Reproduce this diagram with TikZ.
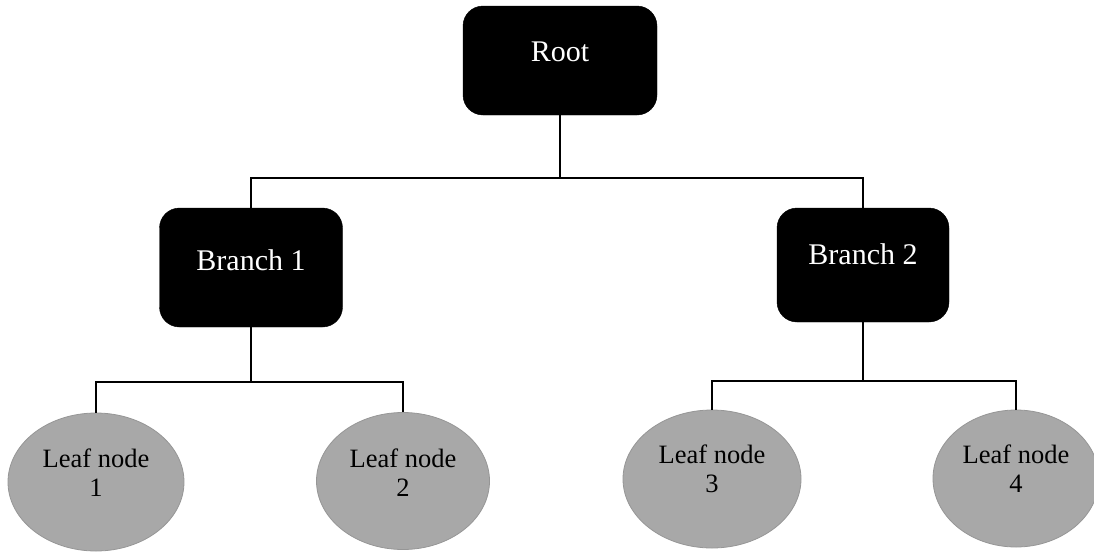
\documentclass[tikz,border=0pt]{standalone}
\usepackage{fontspec}
\setmainfont{Liberation Serif}
\usetikzlibrary{shapes.geometric}
\definecolor{leafgray}{RGB}{168,168,168}
\definecolor{leafedge}{RGB}{150,150,150}
\begin{document}
\begin{tikzpicture}[x=1pt,y=-1pt,
  box/.style={rectangle, rounded corners=20pt, fill=black, draw=black, inner sep=0pt},
  boxtext/.style={text=white, font=\fontsize{30}{33}\selectfont},
  leaf/.style={ellipse, fill=leafgray, draw=leafedge, line width=0.8pt, inner sep=0pt},
  leaftext/.style={text=black, align=center, font=\fontsize{26.5}{29}\selectfont},
  conn/.style={draw=black, line width=1.6pt}]
\useasboundingbox (0,0) rectangle (1094,552);
\node[box, minimum width=194pt, minimum height=109pt,
  label={[boxtext, yshift=8.5pt]center:Root}] (root) at (560,60.5) {};
\node[box, minimum width=183pt, minimum height=119pt,
  label={[boxtext, yshift=7.5pt]center:Branch 1}] (b1) at (251,267.5) {};
\node[box, minimum width=172pt, minimum height=114pt,
  label={[boxtext, yshift=11pt]center:Branch 2}] (b2) at (863,265) {};
\node[leaf, minimum width=176pt, minimum height=138pt,
  label={[leaftext, yshift=9.5pt]center:Leaf node\\1}] (l1) at (96,482) {};
\node[leaf, minimum width=173pt, minimum height=137pt,
  label={[leaftext, yshift=8.5pt]center:Leaf node\\2}] (l2) at (403,481) {};
\node[leaf, minimum width=178pt, minimum height=138pt,
  label={[leaftext, yshift=10pt]center:Leaf node\\3}] (l3) at (712,479) {};
\node[leaf, minimum width=166pt, minimum height=137pt,
  label={[leaftext, yshift=9.5pt]center:Leaf node\\4}] (l4) at (1016,478.5) {};
\coordinate (rj) at (560,178);
\coordinate (b1j) at (251,382);
\coordinate (b2j) at (863,381);
\draw[conn] (root.south) -- (rj);
\draw[conn] (b1.north) |- (rj) -| (b2.north);
\draw[conn] (b1.south) -- (b1j);
\draw[conn] (l1.north) |- (b1j) -| (l2.north);
\draw[conn] (b2.south) -- (b2j);
\draw[conn] (l3.north) |- (b2j) -| (l4.north);
\end{tikzpicture}
\end{document}
